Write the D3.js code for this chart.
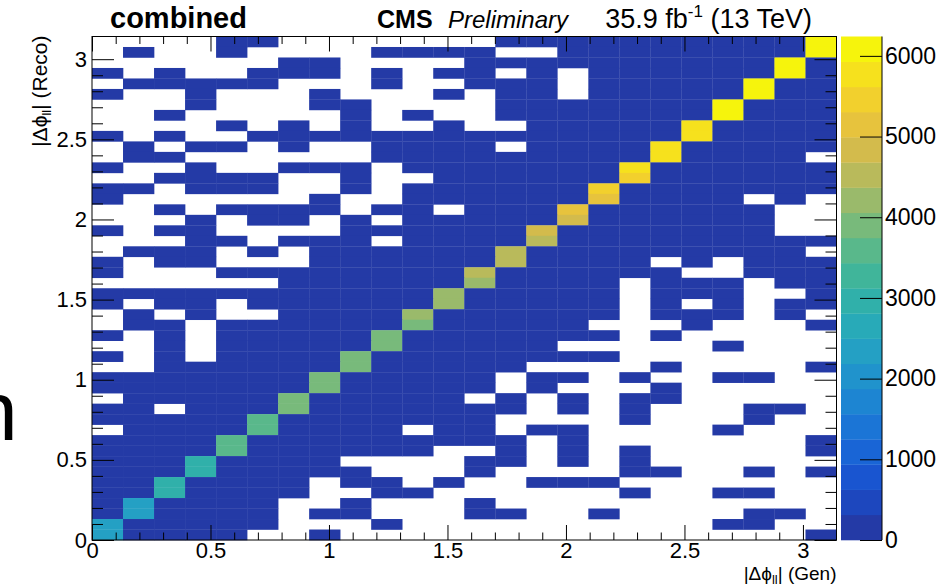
<!DOCTYPE html>
<html>
<head>
<meta charset="utf-8">
<script src="https://cdn.jsdelivr.net/npm/d3@7"></script>
<style>
  html, body { margin: 0; padding: 0; background: #fff; }
  svg { display: block; font-family: "Liberation Sans", Arial, Helvetica, sans-serif; }
</style>
</head>
<body>
<svg id="chart" width="945" height="587"></svg>
<script>
// ---- binning -------------------------------------------------------------
const PI = Math.PI;
const nGen = 24;    // gen-level |dphi_ll| bins (x)
const nReco = 48;   // reco-level |dphi_ll| bins (y)

// Occupancy per reco row, top row = reco bin 47, bottom row = reco bin 0.
// '#' = populated off-diagonal bin (low count), '.' = empty bin, 'D' = diagonal bin
const recoRows = [
  "....##.......##########D",
  ".#..#....####..########D",
  "......##....##########D#",
  "#.#..###.#.##.#.######D#",
  ".#####...#..###.#####D##",
  "#..#...#...#.##.#####D##",
  "...#...##....#######D###",
  "..#.....#.#..#######D###",
  "....#.#.#..#..#####D####",
  "#.#..##############D####",
  ".#.##.#..####.####D#####",
  ".##......#########D####.",
  "#..#..###.#######D######",
  "..####..#..######D######",
  "##.###..#.######D#######",
  "#......#..######D####.#.",
  "..#.####.##.###D######..",
  "...#.##.#.#####D######..",
  "#.##....######D#######..",
  "...##.###.####D#########",
  ".###.#.######D#########.",
  "#.##...######D####.#.###",
  "#...########D######..###",
  "......######D####.###.##",
  "###########D#####.###..#",
  "#.##.######D#####.#.#.##",
  ".#.#..####D######.###.#.",
  ".##.######D#####...#...#",
  "#.#.#####D#######.#.....",
  "..#.#####D#####.....#...",
  "#.#.####D########.......",
  "..######D#####....#....#",
  "#######D#####.##.#..##..",
  "#######D#####.#...#.....",
  ".#####D#####.#.#.##.....",
  "##.###D#######.#.#...##.",
  "#####D#######....#...#..",
  ".####D####.##.##....#...",
  "####D#########.#.......#",
  "####D######..#.#.#.....#",
  "###D####....##.#.#......",
  "###D#####...#....##..#.#",
  "##D####.##.#..###.......",
  "##D####..##......#..##..",
  "#D####..#...#...........",
  "#D####.##...##..#....##.",
  "D#####...#..........##..",
  "D####..#...............#"
];
// typical content of an off-diagonal populated bin
const offDiagCount = 60;

// diagonal contents: each gen bin g maps onto reco bins 2g (lower) and 2g+1 (upper)
const diagLower = [2380, 2300, 2950, 3080, 3500, 3600, 3800, 3850, 3880, 3900, 3980, 4150,
                   4300, 4500, 4620, 4900, 5150, 5450, 5700, 5850, 5980, 6080, 6150, 6200];
const diagUpper = [2400, 2330, 2980, 3100, 3520, 3620, 3820, 3870, 3900, 3930, 4100, 4200,
                   4400, 4550, 4750, 5050, 5350, 5650, 5720, 5900, 6000, 6100, 6180, 6230];

// axes
const xTicks = [0, 0.5, 1, 1.5, 2, 2.5, 3];
const yTicks = [0, 0.5, 1, 1.5, 2, 2.5, 3];
const zTicks = [0, 1000, 2000, 3000, 4000, 5000, 6000];
const zMax = 6240;
const nContours = 20;

// colour palette stops (bottom to top of the colour bar)
const paletteStops = ["#243aa6", "#1652d6", "#1a72d8", "#1f90d0", "#26a8bf", "#30b4a2",
                      "#62ba85", "#a6bb65", "#dcb74a", "#f8d02c", "#f6f40c"];

// ---- layout --------------------------------------------------------------
const frame = { left: 92, right: 836.5, top: 36.5, bottom: 540 };
const bar = { left: 841, right: 882 };
const labelSize = 22;

const svg = d3.select("#chart");

const x = d3.scaleLinear().domain([0, PI]).range([frame.left, frame.right]);
const y = d3.scaleLinear().domain([0, PI]).range([frame.bottom, frame.top]);
const z = d3.scaleLinear().domain([0, zMax]).range([frame.bottom, frame.top]);

const paletteInterp = d3.interpolateRgbBasis(paletteStops);
const bandWidth = zMax / nContours;
const bandColor = k => paletteInterp(k / (nContours - 1));
const colorOf = v => bandColor(Math.max(0, Math.min(nContours - 1, Math.floor(v / bandWidth))));

// ---- cells ---------------------------------------------------------------
const cells = [];
recoRows.forEach((row, i) => {
  const r = nReco - 1 - i;
  for (let g = 0; g < nGen; g++) {
    const c = row[g];
    if (c === ".") continue;
    const v = c === "D" ? (r % 2 === 0 ? diagLower[g] : diagUpper[g]) : offDiagCount;
    cells.push({ g, r, v });
  }
});

const gw = PI / nGen, rh = PI / nReco;
svg.append("g").selectAll("rect").data(cells).join("rect")
  .attr("x", d => x(d.g * gw))
  .attr("y", d => y((d.r + 1) * rh))
  .attr("width", d => x((d.g + 1) * gw) - x(d.g * gw) + 0.3)
  .attr("height", d => y(d.r * rh) - y((d.r + 1) * rh) + 0.3)
  .attr("fill", d => colorOf(d.v));

// ---- frame & axes --------------------------------------------------------
const minorVals = d3.range(0, 31).map(i => i / 10).filter(v => v <= PI && Math.abs(v * 2 - Math.round(v * 2)) > 1e-6);
const fmt = d3.format("");

function styleAxis(g, size = labelSize) {
  g.select(".domain").remove();
  g.selectAll("line").attr("stroke", "#000").attr("stroke-width", 1);
  g.selectAll("text").attr("fill", "#000").attr("font-size", size)
    .attr("font-family", '"Liberation Sans", Arial, Helvetica, sans-serif');
}

// bottom
svg.append("g").attr("transform", `translate(0,${frame.bottom})`)
  .call(d3.axisBottom(x).tickValues(xTicks).tickSize(-15).tickPadding(2).tickFormat(fmt)).call(styleAxis);
svg.append("g").attr("transform", `translate(0,${frame.bottom})`)
  .call(d3.axisBottom(x).tickValues(minorVals).tickSize(-7.5).tickFormat("")).call(styleAxis);
// top
svg.append("g").attr("transform", `translate(0,${frame.top})`)
  .call(d3.axisTop(x).tickValues(xTicks).tickSize(-15).tickFormat("")).call(styleAxis);
svg.append("g").attr("transform", `translate(0,${frame.top})`)
  .call(d3.axisTop(x).tickValues(minorVals).tickSize(-7.5).tickFormat("")).call(styleAxis);
// left
svg.append("g").attr("transform", `translate(${frame.left},0)`)
  .call(d3.axisLeft(y).tickValues(yTicks).tickSize(-22).tickPadding(5).tickFormat(fmt)).call(styleAxis);
svg.append("g").attr("transform", `translate(${frame.left},0)`)
  .call(d3.axisLeft(y).tickValues(minorVals).tickSize(-11).tickFormat("")).call(styleAxis);
// right
svg.append("g").attr("transform", `translate(${frame.right},0)`)
  .call(d3.axisRight(y).tickValues(yTicks).tickSize(-22).tickFormat("")).call(styleAxis);
svg.append("g").attr("transform", `translate(${frame.right},0)`)
  .call(d3.axisRight(y).tickValues(minorVals).tickSize(-11).tickFormat("")).call(styleAxis);

svg.append("rect")
  .attr("x", frame.left).attr("y", frame.top)
  .attr("width", frame.right - frame.left).attr("height", frame.bottom - frame.top)
  .attr("fill", "none").attr("stroke", "#000").attr("stroke-width", 1);

// ---- colour bar ------------------------------------------------------------
svg.append("g").selectAll("rect").data(d3.range(nContours)).join("rect")
  .attr("x", bar.left).attr("width", bar.right - bar.left)
  .attr("y", k => z((k + 1) * bandWidth))
  .attr("height", k => z(k * bandWidth) - z((k + 1) * bandWidth) + 0.3)
  .attr("fill", k => bandColor(k));

svg.append("g").attr("transform", `translate(${bar.right},0)`)
  .call(d3.axisRight(z).tickValues(zTicks).tickSize(-22).tickPadding(3).tickFormat(fmt))
  .call(styleAxis, 23);
svg.append("line").attr("x1", bar.right).attr("x2", bar.right)
  .attr("y1", frame.top).attr("y2", frame.bottom).attr("stroke", "#000");

// ---- titles ----------------------------------------------------------------
function axisTitle(sel, tail) {
  sel.append("tspan").text("|Δϕ");
  sel.append("tspan").attr("font-size", 13).attr("dy", 4).text("ll");
  sel.append("tspan").attr("dy", -4).text("| " + tail);
}
svg.append("text").attr("x", frame.right).attr("y", 580)
  .attr("text-anchor", "end").attr("font-size", 19).attr("fill", "#000")
  .call(axisTitle, "(Gen)");
svg.append("text").attr("transform", `translate(47,${frame.top - 1}) rotate(-90)`)
  .attr("text-anchor", "end").attr("font-size", 21).attr("fill", "#000")
  .call(axisTitle, "(Reco)");

svg.append("text").attr("x", 110).attr("y", 28).attr("font-size", 29)
  .attr("font-weight", "bold").text("combined");
svg.append("text").attr("x", 377).attr("y", 28).attr("font-size", 25)
  .attr("font-weight", "bold").text("CMS");
svg.append("text").attr("x", 448).attr("y", 28).attr("font-size", 24)
  .attr("font-style", "italic").text("Preliminary");
const lumi = svg.append("text").attr("x", 812).attr("y", 28).attr("text-anchor", "end").attr("font-size", 27);
lumi.append("tspan").text("35.9 fb");
lumi.append("tspan").attr("font-size", 17).attr("dy", -11).text("-1");
lumi.append("tspan").attr("dy", 11).text(" (13 TeV)");

// partial glyph at the left margin
svg.append("text").attr("x", -29).attr("y", 440).attr("font-size", 84).attr("fill", "#000").text("n");
</script>
</body>
</html>
